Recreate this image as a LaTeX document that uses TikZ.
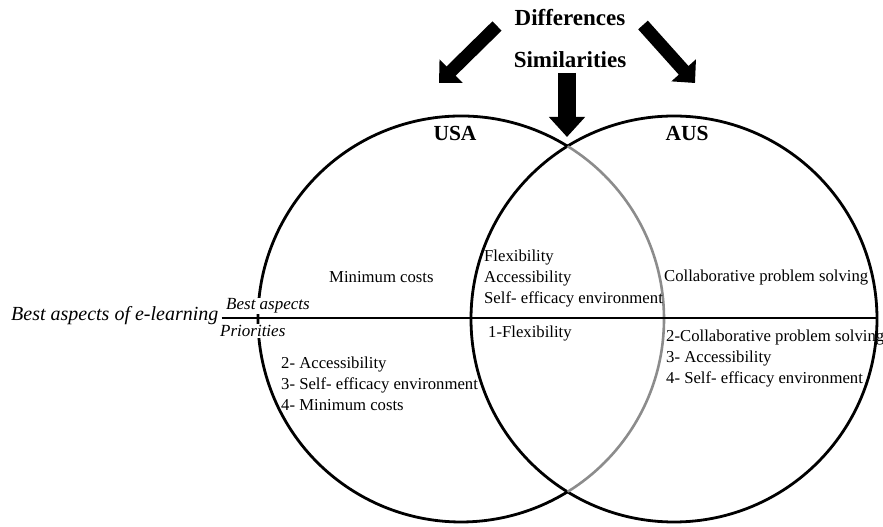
\documentclass[tikz,border=0pt]{standalone}
\usepackage{fontspec}
\setmainfont{Liberation Serif}
\usetikzlibrary{arrows.meta}

\begin{document}
\begin{tikzpicture}[x=1pt,y=1pt,
  ring/.style={line width=2.8pt},
  innerarc/.style={line width=2.6pt, draw=black!45},
  divider/.style={line width=1.4pt},
  title/.style={font=\fontsize{23}{27}\selectfont\bfseries, inner sep=0pt},
  country/.style={font=\fontsize{21.5}{25}\selectfont\bfseries, inner sep=0pt},
  item/.style={font=\fontsize{16.7}{21}\selectfont, anchor=west, align=left, inner sep=0pt},
  tag/.style={font=\fontsize{17}{20}\selectfont\itshape, anchor=west, inner sep=1pt, fill=white},
  fatarrow/.style={line width=13pt, -{Triangle[length=17pt,width=32pt]}},
  downarrow/.style={line width=18pt, -{Triangle[length=20pt,width=35pt]}}
]
\useasboundingbox (0,0) rectangle (883,527);

% the two sets
\def\rr{203pt}
\coordinate (cusa) at (461,208);
\coordinate (caus) at (674,208);
\draw[ring] (caus) circle[radius=\rr];
\begin{scope}
  \clip (caus) circle[radius=\rr];
  \draw[innerarc] (cusa) circle[radius=\rr];
\end{scope}
\draw[ring] (cusa) ++(58.4:\rr) arc[start angle=58.4, end angle=301.6, radius=\rr];

% headings and arrows
\node[title] (diff) at (570,509) {Differences};
\node[title] (sim) at (570,467) {Similarities};
\coordinate (lt) at (497,501);
\coordinate (lh) at (439,444);
\coordinate (rt) at (643,502);
\coordinate (rh) at (695,444);
\coordinate (mt) at (567,454);
\coordinate (mh) at (567,390);
\draw[fatarrow] (lt) -- (lh);
\draw[fatarrow] (rt) -- (rh);
\draw[downarrow] (mt) -- (mh);

\node[country] (usa) at (455,394) {USA};
\node[country] (aus) at (687,394) {AUS};

% dividing line between the two rows
\node[font=\fontsize{20}{23}\selectfont\itshape, anchor=west, inner sep=0pt] (bal) at (11,211) {Best aspects of e-learning};
\coordinate (lineend) at (877,209);
\draw[divider] (bal.east) ++(3,-2) coordinate (linestart) -- (lineend);

\node[tag] (best) at (225,221) {Best aspects};
\node[tag] (prio) at (219,196) {Priorities};

% best aspects row
\node[item] (usabest) at (329,250) {Minimum costs};
\node[item] (bothbest) at (484,248) {Flexibility\\Accessibility\\Self- efficacy environment};
\node[item] (ausbest) at (664,249) {Collaborative problem solving};

% priorities row
\node[item] (usaprio) at (281,143) {2- Accessibility\\3- Self- efficacy environment\\4- Minimum costs};
\node[item] (bothprio) at (488,193) {1-Flexibility};
\node[item] (ausprio) at (666,168) {2-Collaborative problem solving\\3- Accessibility\\4- Self- efficacy environment};
\end{tikzpicture}
\end{document}
